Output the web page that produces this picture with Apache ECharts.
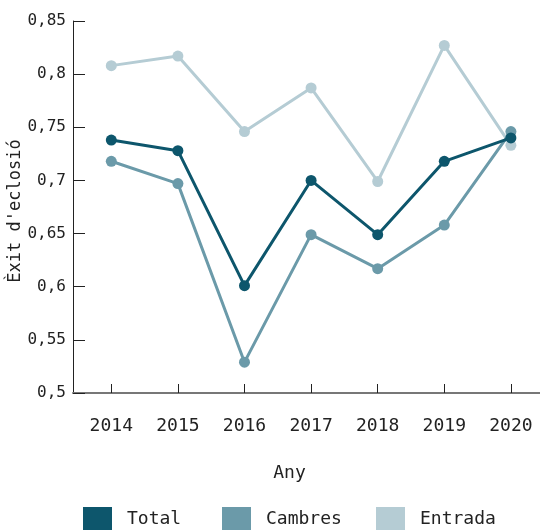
<!DOCTYPE html>
<html>
<head>
<meta charset="utf-8">
<script src="https://cdn.jsdelivr.net/npm/echarts@6/dist/echarts.min.js"></script>
<style>html,body{margin:0;padding:0;background:#fff}#c{width:540px;height:530px}</style>
</head>
<body>
<div id="c"></div>
<script>
const years = [2014, 2015, 2016, 2017, 2018, 2019, 2020];
const total = [0.738, 0.728, 0.601, 0.700, 0.649, 0.718, 0.740];
const cambres = [0.718, 0.697, 0.529, 0.649, 0.617, 0.658, 0.746];
const entrada = [0.808, 0.817, 0.746, 0.787, 0.699, 0.827, 0.733];
const yTicks = [0.5, 0.55, 0.6, 0.65, 0.7, 0.75, 0.8, 0.85];

const FONT = 'DejaVu Sans Mono';
const colors = {Total: '#0d566c', Cambres: '#6b9aa9', Entrada: '#b5ccd4'};
const pairs = arr => years.map((y, i) => [y, arr[i]]);
const mk = (name, arr, z) => ({
  name, type: 'line', data: pairs(arr), z,
  symbol: 'circle', symbolSize: 11,
  lineStyle: {width: 3, color: colors[name]},
  itemStyle: {color: colors[name]},
  emphasis: {disabled: true}, animation: false
});
const legendItem = (name, left) => ({
  data: [name], left, top: 507, padding: 0, icon: 'rect', itemWidth: 29, itemHeight: 24,
  textStyle: {fontFamily: FONT, fontSize: 18, color: '#222', padding: [0, 0, 0, 10]},
  selectedMode: false
});

const chart = echarts.init(document.getElementById('c'), null, {renderer: 'canvas'});
chart.setOption({
  animation: false,
  grid: {left: 73, right: 0, top: 21, bottom: 137, containLabel: false, outerBoundsMode: 'none'},
  xAxis: {
    type: 'value', min: 2013.425, max: 2020.437,
    name: 'Any', nameLocation: 'middle', nameGap: 71, nameMoveOverlap: false,
    nameTextStyle: {fontFamily: FONT, fontSize: 18, color: '#222', padding: [0, 34, 0, 0]},
    axisLine: {show: true, lineStyle: {color: '#777', width: 2}},
    axisTick: {show: true, inside: true, length: 9, customValues: years, lineStyle: {color: '#222'}},
    axisLabel: {customValues: years, formatter: v => String(v), margin: 24, fontFamily: FONT, fontSize: 18, color: '#222'},
    splitLine: {show: false}
  },
  yAxis: {
    type: 'value', min: 0.5, max: 0.85, interval: 0.05,
    name: "Èxit d'eclosió", nameLocation: 'middle', nameGap: 57, nameMoveOverlap: false,
    nameTextStyle: {fontFamily: FONT, fontSize: 17, color: '#222', lineHeight: 20, verticalAlign: 'middle', padding: [0, 8, 0, 0]},
    axisLine: {show: true, lineStyle: {color: '#222', width: 1}},
    axisTick: {show: true, inside: true, length: 12, customValues: yTicks, lineStyle: {color: '#222'}},
    axisLabel: {customValues: yTicks, formatter: v => String(Math.round(v * 100) / 100).replace('.', ','), margin: 7, fontFamily: FONT, fontSize: 16, color: '#222'},
    splitLine: {show: false}
  },
  legend: [legendItem('Total', 83), legendItem('Cambres', 222), legendItem('Entrada', 376)],
  series: [mk('Entrada', entrada, 2), mk('Cambres', cambres, 3), mk('Total', total, 4)]
});
</script>
</body>
</html>
